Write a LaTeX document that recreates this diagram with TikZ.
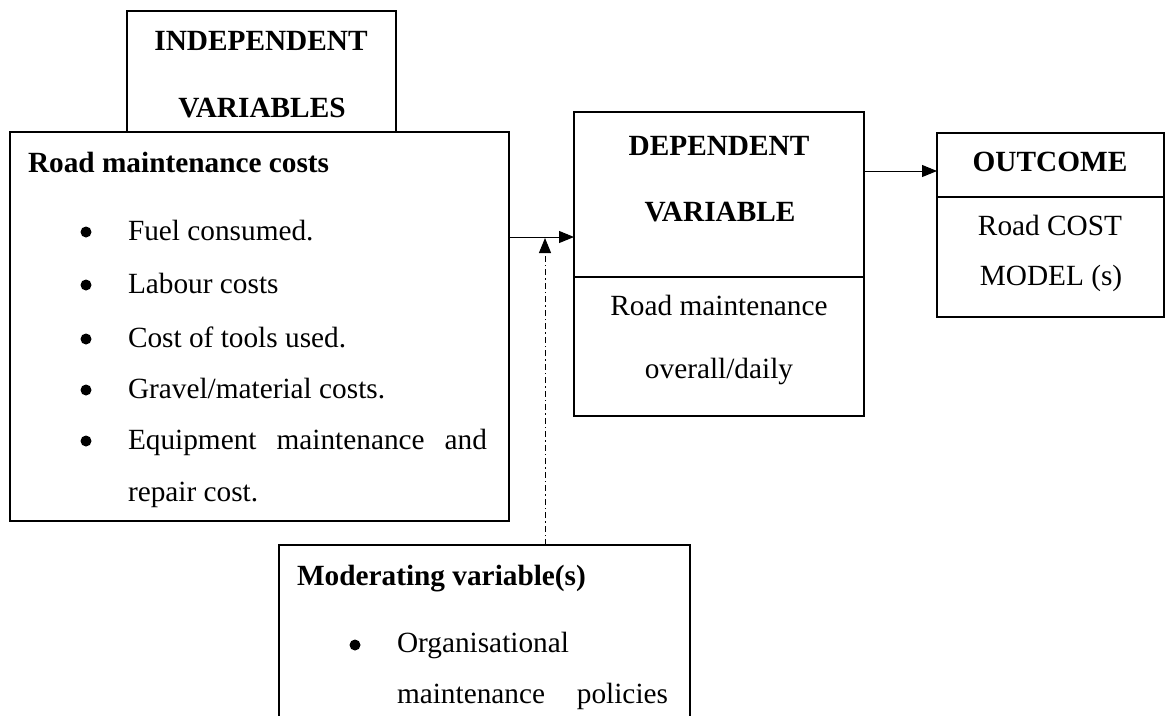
\documentclass[tikz,border=0pt]{standalone}
\usepackage{fontspec}
\setmainfont{Liberation Serif}
\usetikzlibrary{arrows.meta}
\begin{document}
\begin{tikzpicture}[x=1pt,y=-1pt,
  box/.style={draw, line width=1.5pt, rectangle, inner sep=0pt, outer sep=0pt},
  txt/.style={inner sep=0pt, outer sep=0pt, font=\fontsize{29.3}{52}\selectfont},
  head/.style={txt, font=\fontsize{29.3}{52}\selectfont\bfseries},
  dot/.style={circle, fill, inner sep=0pt, outer sep=0pt, minimum size=11pt},
  link/.style={line width=1pt, -{Triangle[length=15pt,width=12pt]}},
  modlink/.style={link, dash pattern=on 6pt off 3pt on 1.5pt off 3pt}]
\useasboundingbox (0,0) rectangle (1174,715);
\clip (0,0) rectangle (1174,715);

% boxes
\node[box, minimum width=269pt, minimum height=121pt] (ind) at (261.5,71.5) {};
\node[box, minimum width=499pt, minimum height=389pt] (cost) at (259.5,326.5) {};
\node[box, minimum width=290pt, minimum height=304pt] (dep) at (719,264) {};
\node[box, minimum width=227pt, minimum height=184pt] (out) at (1050.5,225) {};
\node[box, minimum width=411pt, minimum height=230pt] (mod) at (484.5,660) {};

% section dividers
\draw[line width=1.5pt] (dep.west |- 0,277) -- (dep.east |- 0,277);
\draw[line width=1.5pt] (out.west |- 0,197) -- (out.east |- 0,197);

% independent variables
\node[head, anchor=base] (indA) at (261,50) {INDEPENDENT};
\node[head, anchor=base] (indB) at (262,117) {VARIABLES};
\node[head, anchor=base west] (costH) at (28,172) {Road maintenance costs};
\node[dot] (d1) at (86,232) {};
\node[dot] (d2) at (86,285) {};
\node[dot] (d3) at (86,339) {};
\node[dot] (d4) at (86,390) {};
\node[dot] (d5) at (86,441) {};
\node[txt, anchor=base west] (i1) at (128,240) {Fuel consumed.};
\node[txt, anchor=base west] (i2) at (128,293) {Labour costs};
\node[txt, anchor=base west] (i3) at (128,347) {Cost of tools used.};
\node[txt, anchor=base west] (i4) at (128,398) {Gravel/material costs.};
\node[txt, anchor=base west] (i5) at (128,449) {\makebox[359pt][s]{Equipment maintenance and}};
\node[txt, anchor=base west] (i5b) at (128,501) {repair cost.};

% dependent variable
\node[head, anchor=base] (depA) at (719,155) {DEPENDENT};
\node[head, anchor=base] (depB) at (720,221) {VARIABLE};
\node[txt, anchor=base] (depC) at (719,315) {Road maintenance};
\node[txt, anchor=base] (depD) at (719,378) {overall/daily};

% outcome
\node[head, anchor=base] (outA) at (1050,171) {OUTCOME};
\node[txt, anchor=base] (outB) at (1050,235) {Road COST};
\node[txt, anchor=base] (outC) at (1051,285) {MODEL (s)};

% moderating variables
\node[head, anchor=base west] (modH) at (297,585) {Moderating variable(s)};
\node[dot] (d6) at (355,645) {};
\node[txt, anchor=base west] (m1) at (397,652) {Organisational};
\node[txt, anchor=base west] (m2) at (397,703) {\makebox[271pt][s]{maintenance policies}};

% connectors
\coordinate (j) at (545,237);
\coordinate (k) at (900,171);
\draw[link] (cost.east |- j) -- (dep.west |- j);
\draw[link] (dep.east |- k) -- (out.west |- k);
\draw[modlink] (mod.north -| j) -- ([yshift=-1pt]j);
\end{tikzpicture}
\end{document}
